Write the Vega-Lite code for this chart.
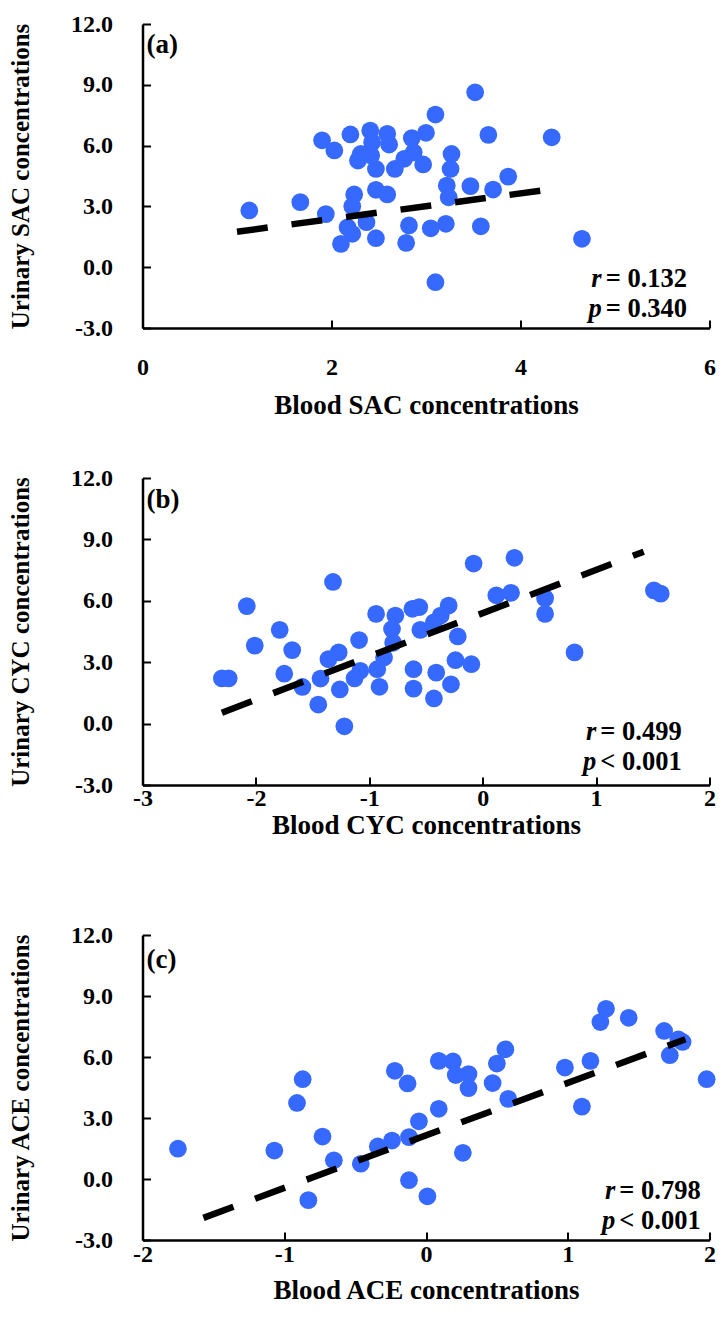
{
  "$schema": "https://vega.github.io/schema/vega-lite/v6.json",
  "background": "white",
  "padding": {"left": 7.5, "top": 12, "right": 5, "bottom": 5},
  "bounds": "flush",
  "spacing": 150,
  "config": {
    "view": {"stroke": null},
    "axis": {
      "grid": false,
      "domainColor": "black",
      "domainWidth": 2.5,
      "tickColor": "black",
      "tickWidth": 2,
      "tickSize": -8,
      "labelFont": "Liberation Serif",
      "labelFontWeight": "bold",
      "labelFontSize": 24,
      "labelColor": "black",
      "labelFlush": false,
      "labelOverlap": false,
      "titleFont": "Liberation Serif",
      "titleFontWeight": "bold",
      "titleFontSize": 27,
      "titleColor": "black"
    },
    "axisY": {"titleFontSize": 25},
    "text": {"font": "Liberation Serif", "fontWeight": "bold", "fontSize": 26.5, "color": "black"}
  },
  "datasets": {
    "a": [
      {"x": 1.13, "y": 2.80}, {"x": 1.67, "y": 3.21}, {"x": 1.94, "y": 2.62}, {"x": 1.90, "y": 6.26},
      {"x": 2.03, "y": 5.76}, {"x": 2.20, "y": 6.55}, {"x": 2.41, "y": 6.74}, {"x": 2.59, "y": 6.58},
      {"x": 2.61, "y": 6.05}, {"x": 2.43, "y": 6.17}, {"x": 2.31, "y": 5.59}, {"x": 2.28, "y": 5.26},
      {"x": 2.42, "y": 5.51}, {"x": 2.47, "y": 4.85}, {"x": 2.67, "y": 4.85}, {"x": 2.77, "y": 5.35},
      {"x": 2.87, "y": 5.67}, {"x": 2.85, "y": 6.37}, {"x": 3.00, "y": 6.63}, {"x": 2.97, "y": 5.07},
      {"x": 3.10, "y": 7.53}, {"x": 3.52, "y": 8.63}, {"x": 3.66, "y": 6.53}, {"x": 3.27, "y": 5.59},
      {"x": 3.26, "y": 4.85}, {"x": 3.22, "y": 4.03}, {"x": 3.24, "y": 3.45}, {"x": 3.47, "y": 4.00},
      {"x": 3.71, "y": 3.83}, {"x": 3.87, "y": 4.47}, {"x": 4.33, "y": 6.41}, {"x": 4.65, "y": 1.40},
      {"x": 2.24, "y": 3.59}, {"x": 2.22, "y": 3.01}, {"x": 2.47, "y": 3.82}, {"x": 2.59, "y": 3.59},
      {"x": 2.17, "y": 1.97}, {"x": 2.22, "y": 1.65}, {"x": 2.10, "y": 1.15}, {"x": 2.37, "y": 2.22},
      {"x": 2.47, "y": 1.43}, {"x": 2.82, "y": 2.06}, {"x": 2.79, "y": 1.20}, {"x": 3.05, "y": 1.92},
      {"x": 3.21, "y": 2.14}, {"x": 3.58, "y": 2.02}, {"x": 3.10, "y": -0.74}
    ],
    "la": [{"x": 1.0, "y": 1.75}, {"x": 4.25, "y": 3.8}],
    "b": [
      {"x": -2.30, "y": 2.21}, {"x": -2.24, "y": 2.21}, {"x": -2.08, "y": 5.74}, {"x": -2.01, "y": 3.81},
      {"x": -1.79, "y": 4.58}, {"x": -1.75, "y": 2.44}, {"x": -1.68, "y": 3.59}, {"x": -1.59, "y": 1.79},
      {"x": -1.45, "y": 0.93}, {"x": -1.43, "y": 2.20}, {"x": -1.32, "y": 6.92}, {"x": -1.36, "y": 3.15},
      {"x": -1.27, "y": 3.48}, {"x": -1.26, "y": 1.67}, {"x": -1.22, "y": -0.13}, {"x": -1.13, "y": 2.21},
      {"x": -1.09, "y": 4.08}, {"x": -1.08, "y": 2.58}, {"x": -0.94, "y": 5.36}, {"x": -0.91, "y": 1.80},
      {"x": -0.93, "y": 2.66}, {"x": -0.87, "y": 3.23}, {"x": -0.77, "y": 5.28}, {"x": -0.80, "y": 4.62},
      {"x": -0.79, "y": 3.95}, {"x": -0.62, "y": 5.61}, {"x": -0.56, "y": 5.69}, {"x": -0.55, "y": 4.58},
      {"x": -0.61, "y": 2.66}, {"x": -0.61, "y": 1.71}, {"x": -0.41, "y": 2.49}, {"x": -0.43, "y": 1.23},
      {"x": -0.28, "y": 1.92}, {"x": -0.24, "y": 3.10}, {"x": -0.10, "y": 2.90}, {"x": -0.22, "y": 4.26},
      {"x": -0.30, "y": 5.77}, {"x": -0.37, "y": 5.28}, {"x": -0.43, "y": 4.95}, {"x": -0.08, "y": 7.82},
      {"x": 0.12, "y": 6.27}, {"x": 0.25, "y": 6.39}, {"x": 0.28, "y": 8.10}, {"x": 0.55, "y": 6.13},
      {"x": 0.55, "y": 5.36}, {"x": 0.81, "y": 3.48}, {"x": 1.51, "y": 6.51}, {"x": 1.57, "y": 6.35}
    ],
    "lb": [{"x": -2.3, "y": 0.53}, {"x": 1.42, "y": 8.4}],
    "c": [
      {"x": -1.75, "y": 1.49}, {"x": -1.07, "y": 1.40}, {"x": -0.91, "y": 3.74}, {"x": -0.87, "y": 4.91},
      {"x": -0.73, "y": 2.09}, {"x": -0.65, "y": 0.92}, {"x": -0.83, "y": -1.04}, {"x": -0.46, "y": 0.75},
      {"x": -0.34, "y": 1.60}, {"x": -0.24, "y": 1.89}, {"x": -0.22, "y": 5.32}, {"x": -0.13, "y": 4.70},
      {"x": -0.12, "y": 2.06}, {"x": -0.05, "y": 2.84}, {"x": -0.12, "y": -0.06}, {"x": 0.01, "y": -0.85},
      {"x": 0.09, "y": 5.81}, {"x": 0.09, "y": 3.45}, {"x": 0.26, "y": 1.29}, {"x": 0.19, "y": 5.78},
      {"x": 0.21, "y": 5.11}, {"x": 0.30, "y": 5.16}, {"x": 0.30, "y": 4.47}, {"x": 0.47, "y": 4.72},
      {"x": 0.50, "y": 5.68}, {"x": 0.56, "y": 6.38}, {"x": 0.58, "y": 3.94}, {"x": 0.98, "y": 5.48},
      {"x": 1.16, "y": 5.81}, {"x": 1.10, "y": 3.56}, {"x": 1.23, "y": 7.72}, {"x": 1.27, "y": 8.37},
      {"x": 1.43, "y": 7.93}, {"x": 1.68, "y": 7.28}, {"x": 1.78, "y": 6.87}, {"x": 1.72, "y": 6.09},
      {"x": 1.81, "y": 6.74}, {"x": 1.98, "y": 4.91}
    ],
    "lc": [{"x": -1.57, "y": -1.91}, {"x": 1.83, "y": 6.87}]
  },
  "vconcat": [
    {
      "width": 567,
      "height": 304,
      "layer": [
        {
          "data": {"name": "a"},
          "mark": {"type": "circle", "size": 315, "color": "#3669FF", "opacity": 1},
          "encoding": {
            "x": {"field": "x", "type": "quantitative",
              "scale": {"domain": [0, 6], "nice": false, "zero": false},
              "axis": {"title": "Blood SAC concentrations", "values": [0, 2, 4, 6], "format": "d", "labelPadding": 35, "titleY": 77, "titleBaseline": "middle"}},
            "y": {"field": "y", "type": "quantitative",
              "scale": {"domain": [-3, 12], "nice": false, "zero": false},
              "axis": {"title": "Urinary SAC concentrations", "values": [-3, 0, 3, 6, 9, 12], "labelExpr": "(datum.value < 0 ? '-' : '') + format(abs(datum.value), '.1f')", "labelPadding": 38, "titleX": -122, "titleBaseline": "middle"}}
          }
        },
        {
          "data": {"name": "la"},
          "mark": {"type": "line", "color": "black", "strokeWidth": 6.5, "strokeDash": [31, 24]},
          "encoding": {"x": {"field": "x", "type": "quantitative"}, "y": {"field": "y", "type": "quantitative"}}
        },
        {
          "data": {"values": [{}]},
          "mark": {"type": "text", "text": "(a)", "align": "left", "baseline": "alphabetic", "dx": 4, "dy": 29, "fontSize": 27},
          "encoding": {"x": {"datum": 0}, "y": {"datum": 12}}
        },
        {
          "data": {"values": [{}]},
          "mark": {"type": "text", "text": ["r", "p"], "align": "right", "baseline": "alphabetic", "dx": -2, "lineHeight": 30, "fontStyle": "italic"},
          "encoding": {"x": {"datum": 4.88}, "y": {"datum": -0.99}}
        },
        {
          "data": {"values": [{}]},
          "mark": {"type": "text", "text": ["= 0.132", "= 0.340"], "align": "left", "baseline": "alphabetic", "dx": 2, "lineHeight": 30},
          "encoding": {"x": {"datum": 4.88}, "y": {"datum": -0.99}}
        }
      ]
    },
    {
      "width": 567,
      "height": 307,
      "layer": [
        {
          "data": {"name": "b"},
          "mark": {"type": "circle", "size": 315, "color": "#3669FF", "opacity": 1},
          "encoding": {
            "x": {"field": "x", "type": "quantitative",
              "scale": {"domain": [-3, 2], "nice": false, "zero": false},
              "axis": {"title": "Blood CYC concentrations", "values": [-3, -2, -1, 0, 1, 2], "labelExpr": "(datum.value < 0 ? '-' : '') + format(abs(datum.value), 'd')", "labelPadding": 9, "titleY": 40, "titleBaseline": "middle"}},
            "y": {"field": "y", "type": "quantitative",
              "scale": {"domain": [-3, 12], "nice": false, "zero": false},
              "axis": {"title": "Urinary CYC concentrations", "values": [-3, 0, 3, 6, 9, 12], "labelExpr": "(datum.value < 0 ? '-' : '') + format(abs(datum.value), '.1f')", "labelPadding": 38, "titleX": -122, "titleBaseline": "middle"}}
          }
        },
        {
          "data": {"name": "lb"},
          "mark": {"type": "line", "color": "black", "strokeWidth": 6.5, "strokeDash": [32, 23]},
          "encoding": {"x": {"field": "x", "type": "quantitative"}, "y": {"field": "y", "type": "quantitative"}}
        },
        {
          "data": {"values": [{}]},
          "mark": {"type": "text", "text": "(b)", "align": "left", "baseline": "alphabetic", "dx": 4, "dy": 30, "fontSize": 27},
          "encoding": {"x": {"datum": -3}, "y": {"datum": 12}}
        },
        {
          "data": {"values": [{}]},
          "mark": {"type": "text", "text": ["r", "p"], "align": "right", "baseline": "alphabetic", "dx": -2, "lineHeight": 30, "fontStyle": "italic"},
          "encoding": {"x": {"datum": 1.02}, "y": {"datum": -0.79}}
        },
        {
          "data": {"values": [{}]},
          "mark": {"type": "text", "text": ["= 0.499", "< 0.001"], "align": "left", "baseline": "alphabetic", "dx": 2, "lineHeight": 30},
          "encoding": {"x": {"datum": 1.02}, "y": {"datum": -0.79}}
        }
      ]
    },
    {
      "width": 567,
      "height": 305,
      "layer": [
        {
          "data": {"name": "c"},
          "mark": {"type": "circle", "size": 315, "color": "#3669FF", "opacity": 1},
          "encoding": {
            "x": {"field": "x", "type": "quantitative",
              "scale": {"domain": [-2, 2], "nice": false, "zero": false},
              "axis": {"title": "Blood ACE concentrations", "values": [-2, -1, 0, 1, 2], "labelExpr": "(datum.value < 0 ? '-' : '') + format(abs(datum.value), 'd')", "labelPadding": 10, "titleY": 50, "titleBaseline": "middle"}},
            "y": {"field": "y", "type": "quantitative",
              "scale": {"domain": [-3, 12], "nice": false, "zero": false},
              "axis": {"title": "Urinary ACE concentrations", "values": [-3, 0, 3, 6, 9, 12], "labelExpr": "(datum.value < 0 ? '-' : '') + format(abs(datum.value), '.1f')", "labelPadding": 38, "titleX": -122, "titleBaseline": "middle"}}
          }
        },
        {
          "data": {"name": "lc"},
          "mark": {"type": "line", "color": "black", "strokeWidth": 6.5, "strokeDash": [32, 23]},
          "encoding": {"x": {"field": "x", "type": "quantitative"}, "y": {"field": "y", "type": "quantitative"}}
        },
        {
          "data": {"values": [{}]},
          "mark": {"type": "text", "text": "(c)", "align": "left", "baseline": "alphabetic", "dx": 4, "dy": 33, "fontSize": 27},
          "encoding": {"x": {"datum": -2}, "y": {"datum": 12}}
        },
        {
          "data": {"values": [{}]},
          "mark": {"type": "text", "text": ["r", "p"], "align": "right", "baseline": "alphabetic", "dx": -2, "lineHeight": 30, "fontStyle": "italic"},
          "encoding": {"x": {"datum": 1.35}, "y": {"datum": -0.96}}
        },
        {
          "data": {"values": [{}]},
          "mark": {"type": "text", "text": ["= 0.798", "< 0.001"], "align": "left", "baseline": "alphabetic", "dx": 2, "lineHeight": 30},
          "encoding": {"x": {"datum": 1.35}, "y": {"datum": -0.96}}
        }
      ]
    }
  ]
}
